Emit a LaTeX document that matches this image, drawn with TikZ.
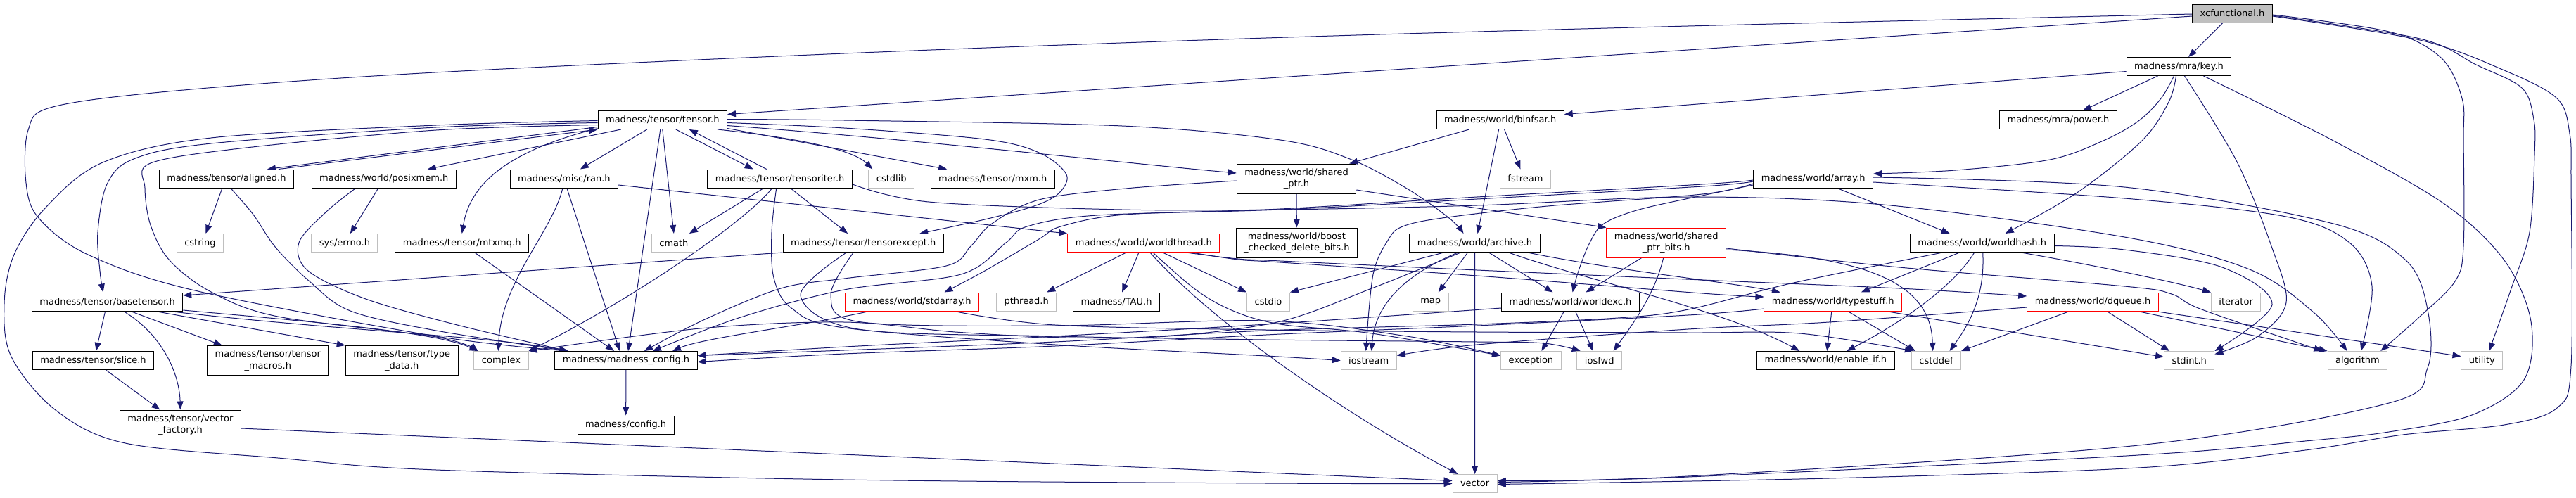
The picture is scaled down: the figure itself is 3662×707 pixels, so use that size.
\documentclass[tikz,border=0pt]{standalone}
\usepackage{fontspec}
\newfontfamily\dvs{DejaVu Sans}
\usetikzlibrary{arrows.meta}
\pgfdeclarelayer{bg}
\pgfsetlayers{bg,main}
\definecolor{edgec}{HTML}{191970}
\definecolor{graybd}{HTML}{BFBFBF}
\definecolor{xcfill}{HTML}{BFBFBF}
\begin{document}
\begin{tikzpicture}[x=1pt,y=-1pt,
  bx/.style={draw=black, line width=1pt, fill=white, inner xsep=11pt, inner ysep=0pt, minimum height=26pt, align=center, font=\dvs\fontsize{13pt}{16.5pt}\selectfont},
  gb/.style={bx, draw=graybd},
  rb/.style={bx, draw=red},
  tall/.style={minimum height=42pt},
  edg/.style={draw=edgec, line width=1pt, -{Triangle[length=12pt,width=9pt]}},
  smo/.style={smooth, tension=0.55}]
\useasboundingbox (0,0) rectangle (3662,707);
% nodes
\node[bx, fill=xcfill] (xcf) at (3173.5,19) {xcfunctional.h};
\node[bx] (key) at (3097.5,94.5) {madness/mra/key.h};
\node[bx] (tensor) at (941.8,170.5) {madness/tensor/tensor.h};
\node[bx] (binfsar) at (2132.6,170.5) {madness/world/binfsar.h};
\node[bx] (power) at (2926,170.5) {madness/mra/power.h};
\node[bx] (aligned) at (321.9,254) {madness/tensor/aligned.h};
\node[bx] (posix) at (545.8,254) {madness/world/posixmem.h};
\node[bx] (ran) at (801.9,254) {madness/misc/ran.h};
\node[bx] (titer) at (1108.7,254) {madness/tensor/tensoriter.h};
\node[gb] (cstdlib) at (1267.3,254) {cstdlib};
\node[bx] (mxm) at (1411.2,254) {madness/tensor/mxm.h};
\node[bx, tall] (sptr) at (1843,254) {madness/world/shared\\\_ptr.h};
\node[gb] (fstream) at (2168.5,254) {fstream};
\node[bx] (array) at (2577.7,254) {madness/world/array.h};
\node[gb] (cstring) at (284.5,345.5) {cstring};
\node[gb] (errno) at (489.9,345.5) {sys/errno.h};
\node[bx] (mtxmq) at (656.7,345.5) {madness/tensor/mtxmq.h};
\node[gb] (cmath) at (957.9,345.5) {cmath};
\node[bx] (texcept) at (1227.2,345.5) {madness/tensor/tensorexcept.h};
\node[rb] (wthread) at (1625.9,345.5) {madness/world/worldthread.h};
\node[bx, tall] (boost) at (1843.4,345) {madness/world/boost\\\_checked\_delete\_bits.h};
\node[bx] (archive) at (2096.5,345.5) {madness/world/archive.h};
\node[rb, tall] (spbits) at (2368.7,345) {madness/world/shared\\\_ptr\_bits.h};
\node[bx] (whash) at (2817.7,345.5) {madness/world/worldhash.h};
\node[bx] (basetensor) at (152.6,429) {madness/tensor/basetensor.h};
\node[rb] (stdarray) at (1296.5,429) {madness/world/stdarray.h};
\node[gb] (pthread) at (1459.2,429) {pthread.h};
\node[bx] (tau) at (1587.1,429) {madness/TAU.h};
\node[gb] (cstdio) at (1803,429) {cstdio};
\node[gb] (map) at (2033.7,429) {map};
\node[bx] (worldexc) at (2232.5,429) {madness/world/worldexc.h};
\node[rb] (typestuff) at (2605.8,429) {madness/world/typestuff.h};
\node[rb] (dqueue) at (2975,429) {madness/world/dqueue.h};
\node[gb] (iterator) at (3178.6,429) {iterator};
\node[bx] (slice) at (132.5,512.5) {madness/tensor/slice.h};
\node[bx, tall] (tmacros) at (380.8,512.5) {madness/tensor/tensor\\\_macros.h};
\node[bx, tall] (typedata) at (571.2,512.5) {madness/tensor/type\\\_data.h};
\node[gb] (complex) at (712.5,512.5) {complex};
\node[bx] (mconf) at (890,512.5) {madness/madness\_config.h};
\node[gb] (iostream) at (1945.7,512.5) {iostream};
\node[gb] (exception) at (2176.4,512.5) {exception};
\node[gb] (iosfwd) at (2273.7,512.5) {iosfwd};
\node[bx] (enableif) at (2595.3,512.5) {madness/world/enable\_if.h};
\node[gb] (cstddef) at (2752.5,512.5) {cstddef};
\node[gb] (stdint) at (3112.2,512.5) {stdint.h};
\node[gb] (algorithm) at (3351.4,512.5) {algorithm};
\node[gb] (utility) at (3528.4,512.5) {utility};
\node[bx, tall] (vecfac) at (256.4,604) {madness/tensor/vector\\\_factory.h};
\node[bx] (config) at (889.6,604) {madness/config.h};
\node[gb] (vector) at (2096.6,687.5) {vector};
\begin{pgfonlayer}{bg}
\fill[white] (0,0) rectangle (3662,707);
% xcfunctional
\draw[edg] (xcf) -- (key);
\draw[edg] ([yshift=-4pt]xcf.west) -- ([yshift=8pt]tensor.east);
\draw[edg] plot[smo] coordinates {([yshift=-1pt]xcf.west) (2400,37) (1800,54) (1200,76) (600,104) (250,129) (75,152) (40,185) (37,260) (55,310) (125,362) (277,413) (620,478) ([xshift=19pt]mconf.north west)};
\draw[edg] plot[smo] coordinates {([yshift=-4pt]xcf.east) (3440,57) (3560,100) (3635,140) (3653,190) (3655,260) (3655,520) (3635,580) (3560,604) (3416,618) (3277,640) (3040,665) (2600,680) ([yshift=-1pt]vector.east)};
\draw[edg] plot[smo] coordinates {([yshift=-2pt]xcf.east) (3396,45) (3470,82) (3500,140) (3502,200) (3502,350) (3490,400) (3440,450) ([xshift=-10pt]algorithm.north east)};
\draw[edg] plot[smo] coordinates {([yshift=-3pt]xcf.east) (3440,55) (3520,92) (3585,125) (3602,170) (3603,220) (3596,330) (3570,410) ([xshift=10pt]utility.north)};
% key
\draw[edg] ([yshift=-7pt]key.west) -- ([yshift=8pt]binfsar.east);
\draw[edg] ([xshift=-30pt]key.south) -- ([xshift=35pt]power.north);
\draw[edg] plot[smo] coordinates {([xshift=-7pt]key.south) (3072,140) (3040,172) (2990,200) (2914,227) (2780,242) ([yshift=7pt]array.east)};
\draw[edg] plot[smo] coordinates {([xshift=-4pt]key.south) (3083,145) (3045,200) (2954,273) ([xshift=33pt]whash.north)};
\draw[edg] plot[smo] coordinates {([xshift=8pt]key.south) (3180,230) (3229,350) (3250,430) (3210,478) ([yshift=9pt]stdint.east)};
\draw[edg] plot[smo] coordinates {([xshift=35pt]key.south) (3317,200) (3475,290) (3560,370) (3598,457) (3588,540) (3514,590) (3396,614) (3277,627) (3040,647) (2400,678) ([yshift=2pt]vector.east)};
% tensor
\draw[edg] ([yshift=-10pt]tensor.west) -- ([xshift=58pt]aligned.north);
\draw[edg] ([xshift=74pt]aligned.north) -- (tensor.south west);
\draw[edg] ([xshift=-59pt]tensor.south) -- ([xshift=62pt]posix.north);
\draw[edg] ([xshift=-22pt]tensor.south) -- ([xshift=23pt]ran.north);
\draw[edg] ([yshift=-12pt]tensor.west) .. controls (720,215) and (668,262) .. (mtxmq.north);
\draw[edg] ([xshift=-3pt]tensor.south) -- ([xshift=3pt]mconf.north);
\draw[edg] (tensor.south) -- (cmath.north);
\draw[edg] ([xshift=19pt]tensor.south) -- ([xshift=-38pt]titer.north);
\draw[edg] ([xshift=-19pt]titer.north) -- ([xshift=38pt]tensor.south);
\draw[edg] plot[smo] coordinates {([yshift=-4pt]tensor.east) (1200,182) (1400,198) (1477,217) (1516,248) (1505,275) (1470,293) (1400,312) ([xshift=80pt]texcept.north)};
\draw[edg] plot[smo] coordinates {([yshift=1pt]tensor.east) (1200,171) (1595,179) (1820,199) (1919,226) (2000,268) (2060,310) ([xshift=-16pt]archive.north)};
\draw[edg] ([yshift=-8pt]tensor.east) .. controls (1300,198) and (1600,232) .. ([yshift=8pt]sptr.west);
\draw[edg] ([xshift=-14pt]tensor.south east) .. controls (1150,198) and (1215,215) .. ([xshift=-27pt]cstdlib.north);
\draw[edg] ([yshift=-12pt]tensor.east) -- ([xshift=-65pt]mxm.north);
\draw[edg] plot[smo] coordinates {([yshift=-4pt]tensor.west) (620,181) (300,204) (190,226) (152,262) (139,330) (142,385) ([xshift=-6pt]basetensor.north)};
\draw[edg] plot[smo] coordinates {([yshift=-1pt]tensor.west) (620,178) (300,196) (146,231) (65,295) (20,362) (6,432) (16,507) (79,583) (178,630) (395,651) (620,668) (1200,682) (1800,687) (vector.west)};
\draw[edg] plot[smo] coordinates {([yshift=-7pt]tensor.west) (620,185) (350,210) (214,232) (206,267) (214,320) (241,370) (300,415) (395,450) (620,479) ([xshift=-33pt]complex.north)};
% aligned, posixmem, mtxmq, ran
\draw[edg] ([xshift=-6pt]aligned.south) -- ([xshift=8pt]cstring.north);
\draw[edg] plot[smo] coordinates {([xshift=6pt]aligned.south) (360,305) (392,352) (440,400) (498,442) (620,470) ([xshift=19pt]mconf.north west)};
\draw[edg] ([xshift=-8pt]posix.south) -- ([xshift=8pt]errno.north);
\draw[edg] plot[smo] coordinates {([xshift=-40pt]posix.south) (465,300) (425,345) (438,385) (520,425) (650,462) ([xshift=19pt]mconf.north west)};
\draw[edg] ([xshift=18pt]mtxmq.south) -- ([xshift=-17pt]mconf.north);
\draw[edg] ([xshift=-2pt]ran.south) .. controls (785,330) and (712,400) .. ([xshift=-4pt]complex.north);
\draw[edg] ([xshift=4pt]ran.south) -- ([xshift=-9pt]mconf.north);
\draw[edg] ([yshift=-9pt]ran.east) -- (wthread.north west);
% tensoriter
\draw[edg] ([xshift=-23pt]titer.south) -- ([xshift=22pt]cmath.north);
\draw[edg] ([xshift=-11pt]titer.south) .. controls (1060,315) and (900,425) .. (complex.north east);
\draw[edg] ([xshift=15pt]titer.south) -- ([xshift=-22pt]texcept.north);
\draw[edg] plot[smo] coordinates {([xshift=-5pt]titer.south) (1097,330) (1100,395) (1125,438) (1200,466) (1500,490) (1800,506) (iostream.west)};
\draw[edg] plot[smo] coordinates {([yshift=-8pt]titer.east) (1320,287) (1595,298) (1820,298) (2100,292) (2400,280) (2677,291) (3020,337) (3198,383) (3290,445) ([xshift=-15pt]algorithm.north)};
% tensorexcept
\draw[edg] (texcept.south west) -- ([yshift=9pt]basetensor.east);
\draw[edg] plot[smo] coordinates {([xshift=-14pt]texcept.south) (1181,420) (1225,458) (1500,463) (1800,456) (2000,478) ([yshift=7pt]exception.west)};
\draw[edg] plot[smo] coordinates {([xshift=-24pt]texcept.south) (1138,420) (1220,468) (1500,478) (1800,483) (2100,486) (2195,488) ([xshift=-27pt]iosfwd.north)};
% basetensor, slice, vector_factory
\draw[edg] ([xshift=-3pt]basetensor.south) -- ([xshift=4pt]slice.north);
\draw[edg] ([xshift=23pt]basetensor.south) .. controls (230,475) and (255,530) .. (vecfac.north);
\draw[edg] ([xshift=33pt]basetensor.south) -- ([xshift=-65pt]tmacros.north);
\draw[edg] ([xshift=68pt]basetensor.south) -- (typedata.north west);
\draw[edg] ([yshift=-12pt]basetensor.east) .. controls (450,458) and (620,472) .. ([xshift=-33pt]complex.north);
\draw[edg] ([xshift=-20pt]basetensor.south east) .. controls (480,470) and (700,478) .. ([xshift=19pt]mconf.north west);
\draw[edg] ([xshift=18pt]slice.south) -- ([xshift=-29pt]vecfac.north);
\draw[edg] ([yshift=-5pt]vecfac.east) -- ([yshift=4pt]vector.west);
% shared_ptr, binfsar
\draw[edg] (sptr) -- (boost);
\draw[edg] ([yshift=-16pt]sptr.east) -- (spbits.north west);
\draw[edg] plot[smo] coordinates {([yshift=-3pt]sptr.west) (1600,268) (1477,284) (1410,318) (1380,350) (1345,378) (1200,396) (1110,410) (1000,455) ([xshift=26pt]mconf.north)};
\draw[edg] ([xshift=-44pt]binfsar.south) -- ([xshift=-10pt]sptr.north east);
\draw[edg] ([xshift=-2pt]binfsar.south) -- ([xshift=4pt]archive.north);
\draw[edg] ([xshift=6pt]binfsar.south) -- ([xshift=-7pt]fstream.north);
% archive
\draw[edg] ([xshift=-44pt]archive.south) -- (cstdio.north east);
\draw[edg] ([xshift=-10pt]archive.south) -- ([xshift=11pt]map.north);
\draw[edg] (archive) -- (vector);
\draw[edg] ([xshift=20pt]archive.south) -- ([xshift=-25pt]worldexc.north);
\draw[edg] ([xshift=-24pt]archive.south) .. controls (2010,385) and (1955,425) .. ([xshift=4pt]iostream.north);
\draw[edg] ([xshift=75pt]archive.south) .. controls (2300,385) and (2450,400) .. ([xshift=-75pt]typestuff.north);
\draw[edg] ([xshift=48pt]archive.south) .. controls (2260,400) and (2450,440) .. ([xshift=-37pt]enableif.north);
\draw[edg] plot[smo] coordinates {([xshift=-20pt]archive.south) (1950,410) (1820,457) (1660,478) (1516,480) (1358,472) (1200,458) (995,467) (complex.north east)};
% shared_ptr_bits
\draw[edg] ([xshift=-35pt]spbits.south) -- ([xshift=22pt]worldexc.north);
\draw[edg] ([xshift=-4pt]spbits.south) .. controls (2352,420) and (2320,462) .. ([xshift=20pt]iosfwd.north);
\draw[edg] ([yshift=-10pt]spbits.east) .. controls (2650,365) and (2745,400) .. ([xshift=-5pt]cstddef.north);
\draw[edg] plot[smo] coordinates {([yshift=-8pt]spbits.east) (2700,380) (3020,407) (3087,418) (3130,440) ([xshift=-50pt]algorithm.north)};
% worldexc
\draw[edg] ([xshift=7pt]worldexc.south) -- ([xshift=-9pt]iosfwd.north);
\draw[edg] ([xshift=-9pt]worldexc.south) -- ([xshift=15pt]exception.north);
\draw[edg] plot[smo] coordinates {([yshift=-9pt]worldexc.west) (1800,461) (1500,478) (1220,492) ([yshift=7pt]mconf.east)};
% worldthread
\draw[edg] ([xshift=-25pt]wthread.south) -- ([xshift=29pt]pthread.north);
\draw[edg] ([xshift=-7pt]wthread.south) -- ([xshift=8pt]tau.north);
\draw[edg] ([xshift=27pt]wthread.south) -- (cstdio.north west);
\draw[edg] ([xshift=9pt]wthread.south) .. controls (1720,455) and (1905,585) .. ([xshift=-24pt]vector.north);
\draw[edg] plot[smo] coordinates {([xshift=13pt]wthread.south) (1700,412) (1753,442) (1820,461) (1950,474) ([yshift=7pt]exception.west)};
\draw[edg] plot[smo] coordinates {([xshift=68pt]wthread.south) (1760,369) (1820,373) (2100,392) (2420,417) ([yshift=7pt]typestuff.west)};
\draw[edg] plot[smo] coordinates {([xshift=60pt]wthread.south) (1760,368) (1820,371) (2100,384) (2420,398) (2700,410) ([yshift=8pt]dqueue.west)};
% stdarray
\draw[edg] ([xshift=-61pt]stdarray.south) .. controls (1150,462) and (1000,480) .. ([xshift=66pt]mconf.north);
\draw[edg] plot[smo] coordinates {([xshift=60pt]stdarray.south) (1500,462) (1800,469) (2100,472) (2400,473) (2558,474) ([xshift=3pt]cstddef.north west)};
% typestuff
\draw[edg] ([xshift=-2pt]typestuff.south) -- ([xshift=2pt]enableif.north);
\draw[edg] ([xshift=21pt]typestuff.south) -- ([xshift=6pt]cstddef.north west);
\draw[edg] ([xshift=75pt]typestuff.south) -- ([yshift=5pt]stdint.west);
\draw[edg] plot[smo] coordinates {([yshift=-10pt]typestuff.west) (2400,448) (2100,463) (1800,476) (1500,492) (1200,503) ([yshift=-2pt]mconf.east)};
% worldhash
\draw[edg] ([xshift=-32pt]whash.south) -- ([xshift=40pt]typestuff.north);
\draw[edg] ([xshift=-11pt]whash.south) .. controls (2775,410) and (2700,460) .. ([xshift=30pt]enableif.north);
\draw[edg] ([xshift=1pt]whash.south) .. controls (2822,420) and (2800,460) .. ([xshift=19pt]cstddef.north);
\draw[edg] plot[smo] coordinates {([yshift=-4pt]whash.east) (3020,355) (3159,380) (3230,433) (stdint.north east)};
\draw[edg] ([xshift=55pt]whash.south) .. controls (2950,372) and (3080,398) .. (iterator.north west);
\draw[edg] plot[smo] coordinates {([xshift=-56pt]whash.south) (2550,402) (2400,440) (2300,452) (2100,461) (1800,470) (1500,486) (1200,498) ([yshift=7pt]mconf.east)};
% dqueue
\draw[edg] ([xshift=-33pt]dqueue.south) -- (cstddef.north east);
\draw[edg] ([xshift=20pt]dqueue.south) -- ([xshift=-28pt]stdint.north);
\draw[edg] ([xshift=-30pt]dqueue.south east) -- (algorithm.north west);
\draw[edg] ([xshift=-5pt]dqueue.south east) -- ([yshift=6pt]utility.west);
\draw[edg] plot[smo] coordinates {([yshift=-8pt]dqueue.west) (2600,458) (2400,468) (2100,490) ([yshift=7pt]iostream.east)};
% array
\draw[edg] plot[smo] coordinates {([yshift=-2pt]array.west) (2420,262) (2100,280) (1820,297) (1600,305) (1508,322) (1477,340) (1400,385) ([xshift=46pt]stdarray.north)};
\draw[edg] plot[smo] coordinates {([yshift=-4pt]array.west) (2420,265) (2100,283) (1820,298) (1560,306) (1460,322) (1430,345) (1366,390) (1200,412) (1050,452) ([xshift=38pt]mconf.north)};
\draw[edg] plot[smo] coordinates {([yshift=-7pt]array.west) (2420,276) (2200,293) (2050,310) (1994,322) (1974,340) (1952,390) ([xshift=-4pt]iostream.north)};
\draw[edg] plot[smo] coordinates {([yshift=-9pt]array.west) (2420,278) (2330,298) (2280,318) (2260,345) (2244,385) ([xshift=3pt]worldexc.north)};
\draw[edg] ([xshift=34pt]array.south) -- ([xshift=-46pt]whash.north);
\draw[edg] plot[smo] coordinates {([yshift=-5pt]array.east) (3020,282) (3250,308) (3340,345) (3372,407) ([xshift=5pt]algorithm.north)};
\draw[edg] plot[smo] coordinates {([yshift=2pt]array.east) (3020,266) (3317,318) (3420,370) (3451,440) (3451,523) (3396,573) (3040,633) (2400,677) ([yshift=4pt]vector.east)};
% config
\draw[edg] (mconf) -- (config);
\end{pgfonlayer}
\end{tikzpicture}
\end{document}
